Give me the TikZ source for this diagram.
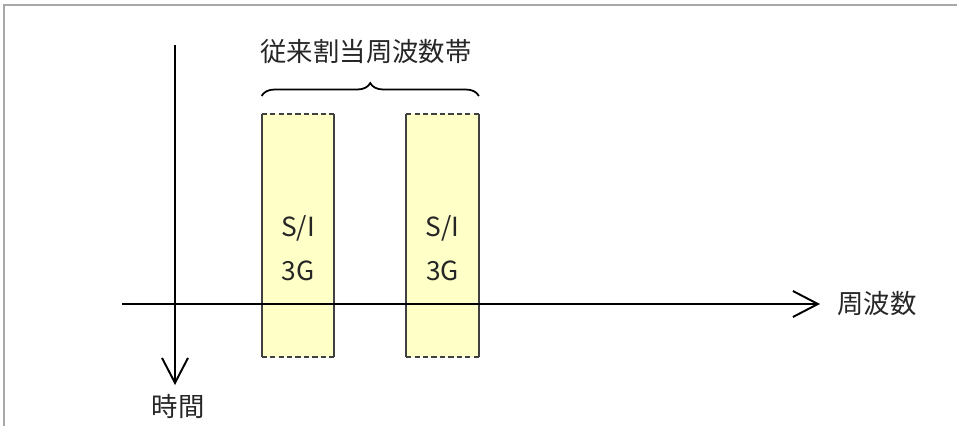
\documentclass[tikz,border=0pt]{standalone}
\usepackage{fontspec}
\newfontfamily\cjk{Noto Sans CJK JP}
\usetikzlibrary{arrows.meta,decorations.pathreplacing,positioning}
\definecolor{bandfill}{HTML}{FFFFC8}
\definecolor{framegray}{HTML}{A8A8A8}
\tikzset{
	axis/.style={line width=1.1pt,-{Straight Barb[length=0.5cm,width=0.52cm,line width=1.1pt]}},
	band/.style={fill=bandfill,inner sep=0pt,minimum width=1.44cm,minimum height=4.86cm},
	edge/.style={line width=1.1pt,black!75},
	lbl/.style={font=\cjk\fontsize{15}{18}\selectfont,text=black!85,inner sep=0pt}
}
\begin{document}
\begin{tikzpicture}[x=0.02cm,y=-0.02cm]
				\useasboundingbox (0,0) rectangle (957,426);
				\draw[framegray,line width=1.1pt] (4,426) -- (4,5) -- (957,5);
				% frequency bands
				\node[band] (s1) at (298,235.5) {};
				\node[band] (s2) at (442.5,235.5) {};
				\draw[edge] (s1.north west) -- (s1.south west);
				\draw[edge] (s1.north east) -- (s1.south east);
				\draw[edge,dash pattern=on 3pt off 1.8pt] (s1.north west) -- (s1.north east);
				\draw[edge,dash pattern=on 3pt off 1.8pt] (s1.south west) -- (s1.south east);
				\draw[edge] (s2.north west) -- (s2.south west);
				\draw[edge] (s2.north east) -- (s2.south east);
				\draw[edge,dash pattern=on 3pt off 1.8pt] (s2.north west) -- (s2.north east);
				\draw[edge,dash pattern=on 3pt off 1.8pt] (s2.south west) -- (s2.south east);
				\node[lbl] (si1) at (298,228) {S/I};
				\node[lbl] (g1) at (298,271) {3G};
				\node[lbl] (si2) at (442.5,228) {S/I};
				\node[lbl] (g2) at (442.5,271) {3G};
				% axes
				\coordinate (t0) at (175,45);
				\coordinate (t1) at (175,385);
				\coordinate (f0) at (122,304);
				\coordinate (f1) at (820,304);
				\draw[axis] (f0) -- (f1);
				\draw[axis] (t0) -- (t1);
				\node[lbl,anchor=west] (freq) at (837,304) {周波数};
				\node[lbl] (time) at (178,406) {時間};
				% brace
				\coordinate (b0) at (s1.north west |- 0,96);
				\coordinate (b1) at (s2.north east |- 0,96);
				\draw[line width=1pt,decorate,decoration={brace,amplitude=0.26cm}] (b0) -- (b1);
				\node[lbl] (old) at (366,52) {従来割当周波数帯};
			\end{tikzpicture}
\end{document}
